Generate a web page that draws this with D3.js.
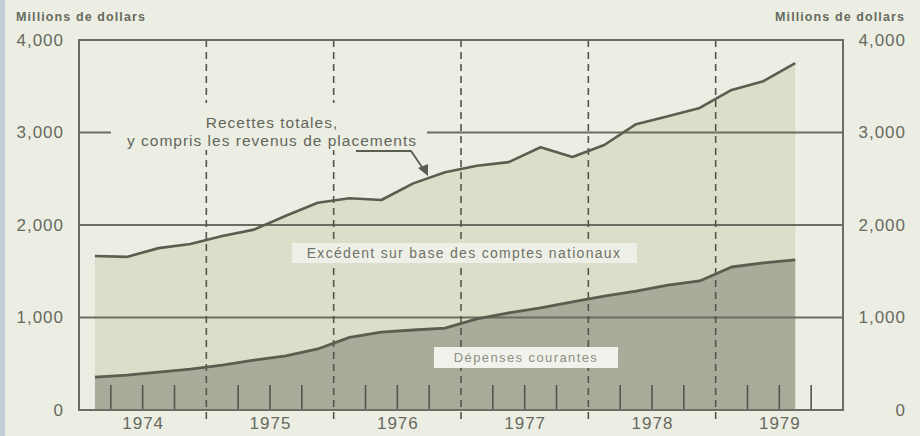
<!DOCTYPE html>
<html><head><meta charset="utf-8">
<script src="https://cdn.jsdelivr.net/npm/d3@7"></script>
<style>
html,body{margin:0;padding:0;background:#eceee4;}
svg{display:block;font-family:"Liberation Sans",Arial,sans-serif;}
</style></head>
<body>
<svg id="chart" width="920" height="436"></svg>
<script>
// ---- data (quarterly, millions de dollars) ----
const years = [1974, 1975, 1976, 1977, 1978, 1979];
const quarterIndex = [0,1,2,3,4,5,6,7,8,9,10,11,12,13,14,15,16,17,18,19,20,21,22]; // 1974T1 .. 1979T3
const recettes = [1665,1655,1750,1795,1880,1950,2100,2240,2290,2270,2450,2570,2640,2680,2840,2735,2865,3090,3175,3265,3460,3555,3750];
const depenses = [355,378,410,443,486,540,585,660,785,843,865,886,985,1050,1105,1170,1232,1286,1350,1395,1546,1590,1622];
const yTicks = [0, 1000, 2000, 3000, 4000];
const gridValues = [1000, 2000, 3000];
const unitLabel = "Millions de dollars";
const labelRecettes = ["Recettes totales,", "y compris les revenus de placements"];
const labelExcedent = "Excédent sur base des comptes nationaux";
const labelDepenses = "Dépenses courantes";

(function () {
const svg = d3.select("#chart");
const W = 920, H = 436;
const mL = 79, mR = 843, mT = 40, mB = 410;

const x = d3.scaleLinear().domain([1974, 1980]).range([mL, mR]);
const y = d3.scaleLinear().domain([0, 4000]).range([mB, mT]);
const tOf = i => 1974 + (i + 0.5) / 4;

const ink = "#5a5e4f";
const textCol = "#676a5d";

svg.append("rect").attr("width", W).attr("height", H).attr("fill", "#eceee4");
svg.append("rect").attr("x", 0).attr("y", 0).attr("width", 5).attr("height", H).attr("fill", "#c3ced6");

// areas
const areaTot = d3.area().x(i => x(tOf(i))).y0(y(0)).y1(i => y(recettes[i]));
const areaDep = d3.area().x(i => x(tOf(i))).y0(y(0)).y1(i => y(depenses[i]));
svg.append("path").datum(quarterIndex).attr("d", areaTot).attr("fill", "#d9dfc8");
svg.append("path").datum(quarterIndex).attr("d", areaDep).attr("fill", "#a9ac9a");

// grid lines
svg.selectAll("line.grid").data(gridValues).join("line")
  .attr("class", "grid")
  .attr("x1", mL).attr("x2", mR)
  .attr("y1", d => y(d)).attr("y2", d => y(d))
  .attr("stroke", "#6a6d60").attr("stroke-width", 1.8);

// year dividers (dashed)
svg.selectAll("line.div").data(years.slice(1)).join("line")
  .attr("class", "div")
  .attr("x1", d => x(d)).attr("x2", d => x(d))
  .attr("y1", mT).attr("y2", mB + 11)
  .attr("stroke", "#53574a").attr("stroke-width", 1.6)
  .attr("stroke-dasharray", "7,5");

// quarter ticks
const qTicks = [];
years.forEach(yr => { [0.25, 0.5, 0.75].forEach(f => qTicks.push(yr + f)); });
svg.selectAll("line.qt").data(qTicks).join("line")
  .attr("class", "qt")
  .attr("x1", d => x(d)).attr("x2", d => x(d))
  .attr("y1", mB).attr("y2", mB - 25)
  .attr("stroke", "#53574a").attr("stroke-width", 1.6);

// frame
svg.append("rect").attr("x", mL).attr("y", mT)
  .attr("width", mR - mL).attr("height", mB - mT)
  .attr("fill", "none").attr("stroke", "#6a6d60").attr("stroke-width", 2);

// lines
const lineTot = d3.line().x(i => x(tOf(i))).y(i => y(recettes[i]));
const lineDep = d3.line().x(i => x(tOf(i))).y(i => y(depenses[i]));
svg.append("path").datum(quarterIndex).attr("d", lineTot)
  .attr("fill", "none").attr("stroke", ink).attr("stroke-width", 2.6).attr("stroke-linejoin", "round");
svg.append("path").datum(quarterIndex).attr("d", lineDep)
  .attr("fill", "none").attr("stroke", ink).attr("stroke-width", 2.8).attr("stroke-linejoin", "round");

// axes
const fmt = d3.format(",");
const axL = svg.append("g").attr("transform", `translate(64,0)`)
  .call(d3.axisLeft(y).tickValues(yTicks).tickFormat(fmt).tickSize(0).tickPadding(0));
const axR = svg.append("g").attr("transform", `translate(906,0)`)
  .call(d3.axisLeft(y).tickValues(yTicks).tickFormat(fmt).tickSize(0).tickPadding(0));
const axB = svg.append("g").attr("transform", `translate(0,${mB})`)
  .call(d3.axisBottom(x).tickValues(years.map(d => d + 0.5)).tickFormat(d => String(Math.floor(d))).tickSize(0).tickPadding(7));
[axL, axR, axB].forEach(g => {
  g.select(".domain").remove();
  g.selectAll("text").attr("fill", textCol).attr("font-size", 17)
    .attr("font-family", "'Liberation Sans',Arial,sans-serif").attr("letter-spacing", 1);
});
axB.selectAll("text").attr("font-size", 17).attr("letter-spacing", 1);

// unit labels
svg.append("text").attr("x", 16).attr("y", 21).text(unitLabel)
  .attr("fill", textCol).attr("font-size", 12.5).attr("letter-spacing", 1.1).attr("font-weight", "bold");
svg.append("text").attr("x", 905).attr("y", 21).attr("text-anchor", "end").text(unitLabel)
  .attr("fill", textCol).attr("font-size", 12.5).attr("letter-spacing", 1.1).attr("font-weight", "bold");

// Recettes label (box masks grid/dividers)
svg.append("rect").attr("x", 111).attr("y", 103).attr("width", 316).attr("height", 47).attr("fill", "#eceee4");
svg.append("g").selectAll("text").data(labelRecettes).join("text")
  .attr("x", 272).attr("y", (d, i) => 128 + i * 18)
  .attr("text-anchor", "middle").text(d => d)
  .attr("fill", "#63665a").attr("font-size", 15.5).attr("letter-spacing", 1);
// leader with arrow
svg.append("path").attr("d", d3.line()([[356, 151], [411, 151], [424, 170]]))
  .attr("fill", "none").attr("stroke", "#5a5e50").attr("stroke-width", 1.8);
svg.append("path").attr("d", d3.line()([[418, 168], [428, 176], [428, 164]]) + "Z")
  .attr("fill", "#5a5e50");

// Excedent label
svg.append("rect").attr("x", 292).attr("y", 243).attr("width", 345).attr("height", 20).attr("fill", "#eef0e7");
svg.append("text").attr("x", 464).attr("y", 258).attr("text-anchor", "middle").text(labelExcedent)
  .attr("fill", "#6f7266").attr("font-size", 14).attr("letter-spacing", 1.3);

// Depenses label
svg.append("rect").attr("x", 434).attr("y", 347).attr("width", 184).attr("height", 21).attr("fill", "#f1f2ec");
svg.append("text").attr("x", 526).attr("y", 362).attr("text-anchor", "middle").text(labelDepenses)
  .attr("fill", "#8d9083").attr("font-size", 13).attr("letter-spacing", 1.4);
})();
</script>
</body></html>
